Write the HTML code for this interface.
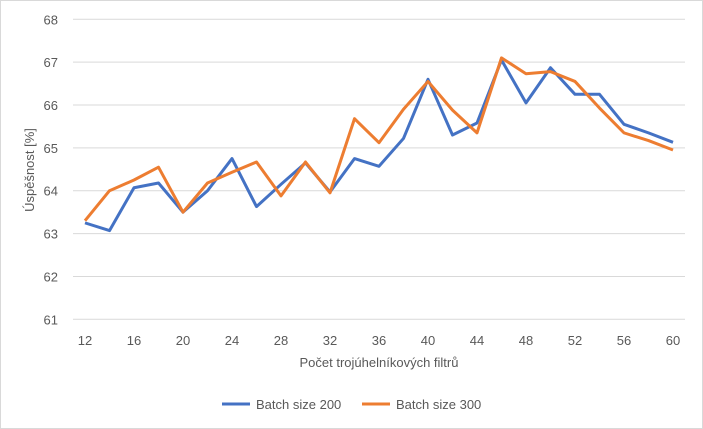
<!DOCTYPE html>
<html><head><meta charset="utf-8"><style>
body{margin:0;background:#fff}
svg{display:block;font-family:"Liberation Sans",sans-serif}
</style></head><body>
<svg id="c" width="703" height="429">
<rect x="0.5" y="0.5" width="702" height="428" fill="#fff" stroke="#d9d9d9"/>
<g id="grid"></g><g id="ylab"></g><g id="xlab"></g><g id="lines"></g>
<text x="34" y="170" transform="rotate(-90 34 170)" text-anchor="middle" font-size="13" fill="#595959">Úspěšnost [%]</text>
<text x="379" y="367" text-anchor="middle" font-size="13" fill="#595959">Počet trojúhelníkových  filtrů</text>
<g>
<g><line x1="222" y1="404" x2="250" y2="404" stroke="#4472c4" stroke-width="3"/><text x="256" y="409" font-size="13" fill="#595959">Batch size 200</text></g>
<g><line x1="362" y1="404" x2="390" y2="404" stroke="#ed7d31" stroke-width="3"/><text x="396" y="409" font-size="13" fill="#595959">Batch size 300</text></g>
</g>
</svg>
<script>
const categories=[12,14,16,18,20,22,24,26,28,30,32,34,36,38,40,42,44,46,48,50,52,54,56,58,60];
const batch200=[63.25,63.07,64.07,64.18,63.5,64.0,64.75,63.63,64.15,64.65,63.97,64.75,64.57,65.22,66.6,65.3,65.58,67.05,66.05,66.87,66.25,66.25,65.55,65.35,65.13];
const batch300=[63.3,64.0,64.25,64.55,63.5,64.18,64.43,64.67,63.88,64.67,63.95,65.68,65.12,65.9,66.55,65.88,65.35,67.1,66.73,66.78,66.55,65.93,65.35,65.17,64.95];
const yTicks=[61,62,63,64,65,66,67,68];
const NS="http://www.w3.org/2000/svg";
const x0=85,x1=673,yTop=19.3,yBot=319.3,yMin=61,yMax=68;
function xs(i){return x0+(x1-x0)*i/(categories.length-1);}
function ys(v){return yBot-(v-yMin)/(yMax-yMin)*(yBot-yTop);}
function mk(t,a,p){const e=document.createElementNS(NS,t);for(const k in a)e.setAttribute(k,a[k]);p.appendChild(e);return e;}
const grid=document.getElementById('grid'),yl=document.getElementById('ylab'),xl=document.getElementById('xlab'),ln=document.getElementById('lines');
yTicks.forEach(v=>{
 const g=mk('line',{x1:73,x2:685,y1:ys(v),y2:ys(v),stroke:'#d9d9d9','stroke-width':1},grid);
 
 
 const t=mk('text',{x:58,y:ys(v)+5,'text-anchor':'end','font-size':13,fill:'#595959'},yl);
 t.textContent=v;
 
 
});
categories.forEach((c,i)=>{
 if(i%2)return;
 const t=mk('text',{x:xs(i),y:345,'text-anchor':'middle','font-size':13,fill:'#595959'},xl);
 t.textContent=c;
 
 
});
[[batch200,'#4472c4','series-batch-200'],[batch300,'#ed7d31','series-batch-300']].forEach(([d,col,n])=>{
 const p=mk('polyline',{points:d.map((v,i)=>xs(i)+','+ys(v)).join(' '),fill:'none',stroke:col,'stroke-width':3,'stroke-linejoin':'round'},ln);
 
 
});
</script>
</body></html>
